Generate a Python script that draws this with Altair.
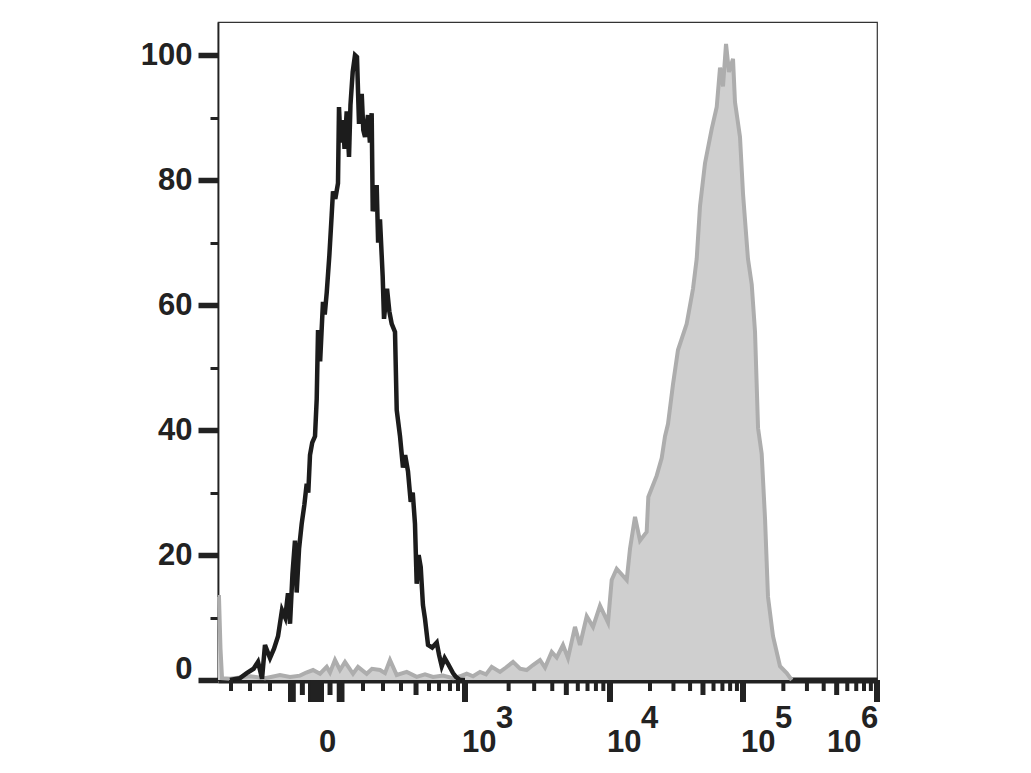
import math
import altair as alt
import pandas as pd

# ---- data (x in display channels 0..1000 of the biexponential axis, y in % of max) ----
ctrl_x = [18.2, 33.4, 43.6, 54.0, 60.7, 64.0, 66.8, 71.3, 78.9, 85.0, 91.1, 97.1, 102.0, 106.2, 109.3,
          113.0, 116.8, 119.4, 123.0, 127.0, 131.0, 134.6, 137.0, 139.6, 143.0, 147.2, 149.8, 151.8,
          155.0, 159.3, 162.0, 165.0, 169.0, 172.5, 174.5, 178.0, 182.1, 183.6, 186.0, 189.7, 192.0,
          195.3, 198.8, 201.0, 204.4, 207.9, 210.9, 214.0, 218.1, 220.5, 223.1, 227.6, 230.5, 233.2,
          234.8, 240.8, 243.0, 245.8, 249.9, 251.9, 256.5, 260.0, 263.6, 268.6, 271.2, 276.2, 280.7,
          284.0, 288.3, 292.4, 295.5, 298.9, 301.5, 304.5, 307.6, 311.0, 314.1, 318.7, 325.0, 331.9,
          335.5, 339.5, 344.0, 349.0, 356.6, 361.0, 367.2, 374.8]
ctrl_y = [0.0, 0.3, 1.1, 1.8, 2.9, 1.5, 0.2, 5.6, 3.5, 5.0, 7.0, 11.2, 10.0, 13.9, 9.0,
          17.0, 22.3, 14.0, 21.0, 25.0, 28.0, 31.4, 30.0, 36.0, 38.0, 39.0, 45.0, 56.0,
          51.0, 60.5, 58.5, 62.0, 68.0, 74.4, 78.2, 77.0, 79.5, 91.7, 86.0, 89.6, 85.0,
          91.0, 83.7, 92.0, 97.3, 100.0, 99.7, 89.0, 93.8, 88.0, 86.9, 90.4, 86.0, 90.7,
          75.0, 79.2, 70.0, 73.7, 64.6, 57.8, 62.6, 59.0, 57.0, 55.7, 43.2, 39.0, 34.0,
          36.0, 33.4, 28.5, 30.0, 25.0, 15.4, 20.0, 18.1, 12.0, 9.8, 5.6, 5.2, 6.0,
          4.0, 2.2, 3.5, 2.6, 1.1, 0.5, 0.0, 0.0]

stain_x = [0.0, 1.5, 3.8, 6.1, 18.2, 48.6, 71.3, 94.1, 109.3, 124.4, 134.0, 144.2, 154.8, 165.0, 170.0,
           177.5, 185.1, 192.7, 204.9, 212.5, 225.6, 233.7, 245.8, 253.4, 261.0, 271.2, 286.4, 301.5,
           314.1, 326.3, 341.4, 356.6, 367.2, 377.4, 387.0, 397.6, 406.7, 415.3, 427.9, 437.0, 447.7,
           458.3, 468.4, 478.0, 488.6, 496.2, 506.4, 514.0, 523.5, 531.1, 541.7, 549.3, 559.5, 569.1,
           579.7, 591.8, 597.4, 605.0, 620.2, 625.2, 632.8, 640.4, 650.5, 653.0, 665.7, 673.3, 678.3,
           682.9, 690.4, 698.0, 711.2, 720.8, 726.4, 731.4, 739.0, 749.2, 756.8, 761.8, 766.3, 770.9,
           775.4, 781.5, 784.5, 792.1, 796.7, 804.2, 809.9, 814.9, 819.5, 825.0, 830.1, 834.6, 842.2,
           852.8, 863.0, 870.6]
stain_y = [13.3, 13.3, 5.0, 0.3, 0.2, 0.6, 0.3, 0.8, 0.5, 0.7, 1.2, 1.6, 1.0, 2.1, 1.2,
           3.2, 1.6, 2.9, 1.0, 2.1, 1.0, 1.8, 1.6, 1.1, 3.2, 0.8, 1.3, 0.5,
           0.9, 0.5, 0.7, 0.3, 0.6, 1.0, 0.6, 1.3, 0.9, 2.1, 1.3, 2.0, 2.9,
           1.8, 1.6, 2.4, 3.2, 2.0, 4.5, 3.6, 5.6, 3.5, 8.5, 5.6, 10.2, 8.5,
           11.9, 9.2, 16.0, 17.8, 16.0, 21.0, 26.1, 22.3, 23.7, 29.3, 32.7, 35.5, 39.0,
           41.0, 47.3, 52.8, 57.0, 62.6, 67.4, 75.8, 82.7, 88.2, 91.7, 98.0, 95.0, 101.8,
           97.3, 99.4, 92.5, 86.9, 77.8, 67.4, 63.3, 55.7, 40.3, 36.2, 25.8, 13.3, 7.0,
           2.2, 1.1, 0.0]

# axis tick positions (display channels)
decade_pos = [374.8, 594.8, 796.7, 1000.0]          # 10^3, 10^4, 10^5, 10^6
decade_exp = ["3", "4", "5", "6"]
zero_pos = 148.7
lin_major = [110.8, 113.5, 141.1, 144.8, 148.7, 152.5, 156.3, 184.7, 187.4]  # -100 .. 0 .. 100 cluster
lin_medium = [128.0, 170.0, 300.5]                   # -50, 50, 500
lin_minor = [19.7, 48.6, 78.9, 220.0, 250.4, 277.7, 320.2, 335.4, 352.0, 364.2]

y_ticks = list(range(0, 101, 5))

FONT = "Liberation Sans, Arial, sans-serif"
FS = 31
FW = "bold"
INK = "#222222"

# ---- build tick lists ----
major = list(lin_major) + list(decade_pos)
medium = list(lin_medium)
minor = list(lin_minor)
for k in range(3):
    a, b = decade_pos[k], decade_pos[k + 1]
    for m in range(2, 10):
        p = round(a + math.log10(m) * (b - a), 2)
        (medium if m == 5 else minor).append(p)

W, H = 659, 658
xscale = alt.Scale(domain=[0, 1000], nice=False, zero=False)
yscale = alt.Scale(domain=[0, 105.3], nice=False)

ctrl = pd.DataFrame({"ch": ctrl_x, "pct": ctrl_y})
stain = pd.DataFrame({"ch": stain_x, "pct": stain_y})

y_tick_size = {"condition": {"test": "datum.value % 20 == 0", "value": 20}, "value": 8}
y_tick_width = {"condition": {"test": "datum.value % 20 == 0", "value": 5.5}, "value": 3}

xaxis = alt.Axis(labels=False, ticks=False, title=None, grid=False,
                 domainColor=INK, domainWidth=6)
yaxis = alt.Axis(values=y_ticks, title=None, grid=False,
                 labelExpr="datum.value % 20 == 0 ? datum.label : ''",
                 labelFont=FONT, labelFontSize=FS, labelFontWeight=FW, labelColor=INK, labelPadding=6,
                 labelOffset={"condition": {"test": "datum.value == 0", "value": -11}, "value": 0},
                 domainColor=INK, domainWidth=1.8, tickColor=INK,
                 tickSize=y_tick_size, tickWidth=y_tick_width)

area = alt.Chart(stain).mark_area(color="#cfcfcf", interpolate="linear").encode(
    x=alt.X("ch:Q", scale=xscale, axis=xaxis),
    y=alt.Y("pct:Q", scale=yscale, axis=yaxis),
)
area_line = alt.Chart(stain).mark_line(color="#adadad", strokeWidth=4).encode(
    x=alt.X("ch:Q", scale=xscale), y=alt.Y("pct:Q", scale=yscale))
ctrl_line = alt.Chart(ctrl).mark_line(color="#1c1c1c", strokeWidth=4.5, strokeJoin="miter").encode(
    x=alt.X("ch:Q", scale=xscale), y=alt.Y("pct:Q", scale=yscale))

# x-axis ticks drawn as rules through the x scale
tick_layers = []
for vals, size, width in [(minor, 11, 4), (medium, 15, 5), (major, 22, 6)]:
    d = pd.DataFrame({"ch": vals})
    tick_layers.append(alt.Chart(d).mark_rule(color=INK, strokeWidth=width).encode(
        x=alt.X("ch:Q", scale=xscale), y=alt.value(H), y2=alt.value(H + size)))

# x labels: "0", 10^3 .. 10^6 with raised exponents
label_layers = []
zero_df = pd.DataFrame({"ch": [zero_pos], "t": ["0"]})
label_layers.append(alt.Chart(zero_df).mark_text(align="left", baseline="alphabetic", dx=3,
                                                 font=FONT, fontSize=FS, fontWeight=FW, color=INK).encode(
    x=alt.X("ch:Q", scale=xscale), y=alt.value(730), text="t:N"))
base_dx = [-3, -3, -2, -50]
exp_dx = [31, 31, 32, -16]
for p, e, bd, ed in zip(decade_pos, decade_exp, base_dx, exp_dx):
    d = pd.DataFrame({"ch": [p], "b": ["10"], "e": [e]})
    label_layers.append(alt.Chart(d).mark_text(align="left", baseline="alphabetic", dx=bd,
                                               font=FONT, fontSize=FS, fontWeight=FW, color=INK).encode(
        x=alt.X("ch:Q", scale=xscale), y=alt.value(730), text="b:N"))
    label_layers.append(alt.Chart(d).mark_text(align="left", baseline="alphabetic", dx=ed,
                                               font=FONT, fontSize=FS, fontWeight=FW, color=INK).encode(
        x=alt.X("ch:Q", scale=xscale), y=alt.value(706), text="e:N"))

chart = alt.layer(area, area_line, ctrl_line, *tick_layers, *label_layers).properties(
    width=W, height=H,
    autosize=alt.AutoSizeParams(type="none"),
    padding={"left": 210, "top": 14, "right": 130, "bottom": 80},
    background="white",
).configure_view(stroke="#333333", strokeWidth=1.2)

chart.save("out.html", embed_options={"renderer": "svg", "actions": False})
